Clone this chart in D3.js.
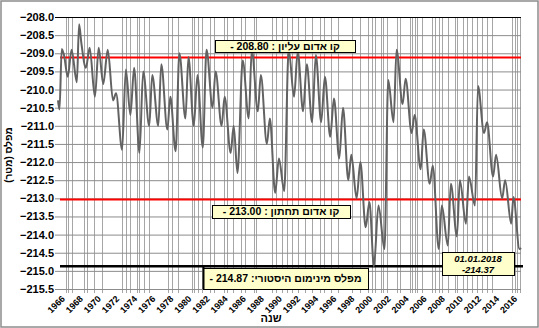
<!DOCTYPE html>
<html>
<head>
<meta charset="utf-8">
<script src="https://cdn.jsdelivr.net/npm/d3@7/dist/d3.min.js"></script>
<style>
body { margin: 0; background: #fff; }
svg { display: block; font-family: "Liberation Sans", Arial, "DejaVu Sans", sans-serif; }
</style>
</head>
<body>
<div id="chart"></div>
<script>
// level of the lake (seasonal highs and lows)
const months = [
  '1966-11','1967-01','1967-04','1967-07','1967-12','1968-05','1968-12','1969-03','1969-06','1969-12',
  '1970-05','1970-12','1971-05','1971-11','1972-05','1972-12','1973-04','1973-12','1974-05','1974-11',
  '1975-04','1975-11','1976-04','1976-12','1977-04','1977-12','1978-04','1978-12','1979-04','1979-11',
  '1980-04','1980-12','1981-04','1981-11','1982-04','1982-11','1983-04','1983-12','1984-04','1984-12',
  '1985-04','1985-12','1986-04','1986-09','1987-04','1987-12','1988-04','1988-12','1989-04','1989-12',
  '1990-04','1990-11','1991-04','1991-11','1992-05','1992-12','1993-05','1993-12','1994-05','1994-12',
  '1995-05','1995-12','1996-05','1996-12','1997-05','1997-12','1998-05','1998-12','1999-04','1999-11',
  '2000-04','2000-11','2001-04','2001-10','2002-04','2002-12','2003-05','2003-12','2004-04','2004-12',
  '2005-04','2005-12','2006-04','2006-12','2007-04','2007-12','2008-04','2008-12','2009-04','2009-12',
  '2010-04','2010-12','2011-04','2011-12','2012-04','2012-12','2013-04','2013-12','2014-04','2014-12',
  '2015-04','2015-12','2016-04','2016-12','2017-03','2017-11','2018-01'
];
const levels = [
  -210.30,-210.55,-208.88,-209.05,-209.65,-208.90,-209.80,-208.20,-208.72,-209.40,
  -208.85,-210.20,-208.85,-209.85,-208.90,-210.30,-210.10,-211.66,-209.45,-210.70,
  -209.40,-211.75,-209.50,-211.00,-209.60,-211.00,-209.30,-211.10,-210.20,-211.70,
  -209.00,-210.80,-209.10,-211.00,-209.60,-211.60,-208.90,-210.50,-209.50,-211.00,
  -210.20,-211.75,-211.00,-212.30,-209.20,-210.80,-208.90,-210.60,-209.60,-211.50,
  -210.80,-212.85,-211.90,-212.80,-208.90,-210.20,-208.95,-210.60,-209.30,-210.90,
  -209.05,-210.90,-209.65,-211.30,-210.25,-211.90,-210.50,-212.50,-211.80,-213.00,
  -212.00,-213.80,-213.10,-214.87,-213.20,-214.40,-209.74,-210.90,-208.90,-210.40,
  -209.70,-211.20,-210.70,-212.20,-211.10,-212.60,-212.10,-214.40,-213.20,-214.30,
  -212.60,-214.05,-212.50,-213.70,-212.40,-213.20,-209.90,-211.20,-210.90,-212.40,
  -211.80,-213.00,-212.50,-213.70,-212.96,-214.40,-214.37
];

const yTicks = [-215.5,-215,-214.5,-214,-213.5,-213,-212.5,-212,-211.5,-211,-210.5,-210,-209.5,-209,-208.5,-208];
const xTickYears = d3.range(1966, 2017, 2);

// vertical grid lines of the original sheet (years, fractional)
const gridYears = [
  1967.68,1967.97,1968.41,1969.74,1970.07,1970.84,1971.66,1973.93,1974.31,1974.82,1975.56,1975.78,
  1976.30,1976.89,1979.02,1979.39,1980.06,1981.60,1981.89,1982.33,1982.77,1983.59,1984.10,1985.14,
  1985.47,1986.17,1987.05,1987.49,1988.45,1988.67,1990.51,1990.89,1991.61,1992.10,1992.65,1993.38,
  1994.12,1994.86,1995.78,1996.22,1996.96,1997.80,1999.28,2000.20,2001.12,2001.49,2001.86,2002.49,
  2002.78,2003.15,2004.26,2004.62,2005.73,2005.91,2006.28,2006.53,2007.02,2008.12,2008.49,2008.93,
  2009.30,2009.96,2010.70,2010.89,2011.62,2011.99,2012.54,2013.09,2013.65,2014.20,2014.75,
  2016.96,2017.33,2017.58,2017.88
];

const redLevels = [-209.12, -213.03];
const redTexts = ['קו אדום עליון : 208.80 -', 'קו אדום תחתון : 213.00 -'];
const minLevel = -214.87;
const minText = 'מפלס מינימום היסטורי: 214.87 -';
const lastTexts = ['01.01.2018', '-214.37'];

const width = 539, height = 328;
const mLeft = 58, mRight = 521, mTop = 17, mBottom = 289;

const toDate = s => d3.timeParse('%Y-%m')(s);
const yearDate = v => {
  const yi = Math.floor(v);
  return new Date(new Date(yi, 0, 1).getTime() + (v - yi) * 365.25 * 864e5);
};
const start = toDate(months[0]);
const end = new Date(2018, 0, 1);

const x = d3.scaleTime().domain([start, end]).range([mLeft, mRight]);
const y = d3.scaleLinear().domain([-215.5, -208]).range([mBottom, mTop]);

const svg = d3.select('#chart').append('svg').attr('width', width).attr('height', height);

svg.append('rect').attr('x', 1).attr('y', 1).attr('width', width - 2).attr('height', height - 2)
  .attr('fill', '#fff').attr('stroke', '#8c8c8c').attr('stroke-width', 1.5);

// vertical grid
svg.append('g').selectAll('line').data(gridYears).join('line')
  .attr('x1', d => Math.round(x(yearDate(d))) + 0.5).attr('x2', d => Math.round(x(yearDate(d))) + 0.5)
  .attr('y1', mTop).attr('y2', mBottom + 4)
  .attr('stroke', '#a6a6a6').attr('stroke-width', 1);

// horizontal grid
svg.append('g').attr('transform', `translate(${mRight},0)`)
  .call(d3.axisLeft(y).tickValues(yTicks).tickSize(mRight - mLeft + 3).tickFormat(''))
  .call(g => g.select('.domain').remove())
  .call(g => g.selectAll('.tick line').attr('stroke', d => d === -208 ? '#000' : '#8c8c8c'));

// y labels
svg.append('g').attr('transform', `translate(${mLeft - 4},0)`)
  .call(d3.axisLeft(y).tickValues(yTicks).tickSize(0).tickPadding(0).tickFormat(d3.format('.1f')))
  .call(g => g.select('.domain').remove())
  .call(g => g.selectAll('text').attr('font-size', 11).attr('font-weight', 'bold').attr('fill', '#000')
    .attr('font-family', '"Liberation Sans", Arial, sans-serif'));

// x axis labels
const xg = svg.append('g').attr('transform', `translate(0,${mBottom})`);
xg.selectAll('text').data(xTickYears).join('text')
  .attr('transform', d => `translate(${x(new Date(d, start.getMonth(), 1)) + 3},6) rotate(-45)`)
  .attr('text-anchor', 'end').attr('dy', '0.7em')
  .attr('font-size', 9).attr('font-weight', 'bold')
  .text(d => d);

// reference lines
svg.append('g').selectAll('line').data(redLevels).join('line')
  .attr('x1', mLeft + 2).attr('x2', mRight).attr('y1', d => y(d)).attr('y2', d => y(d))
  .attr('stroke', '#ff0000').attr('stroke-width', 2);
svg.append('line').attr('x1', mLeft + 2).attr('x2', mRight + 2)
  .attr('y1', y(minLevel)).attr('y2', y(minLevel))
  .attr('stroke', '#000').attr('stroke-width', 2.5);

// level line
const line = d3.line().x((d, i) => x(toDate(months[i]))).y(d => y(d)).curve(d3.curveMonotoneX);
svg.append('path').datum(levels).attr('d', line)
  .attr('fill', 'none').attr('stroke', '#626262').attr('stroke-width', 2);

// labels
function box(x0, y0, w, h, lines, opts = {}) {
  const g = svg.append('g');
  g.append('rect').attr('x', x0 + 0.5).attr('y', y0 + 0.5).attr('width', w).attr('height', h)
    .attr('fill', '#ffffcc').attr('stroke', '#000').attr('stroke-width', 1);
  lines.forEach((t, i) => {
    g.append('text').attr('x', x0 + w / 2).attr('y', y0 + (opts.y0 || h / 2) + i * (opts.lh || 0))
      .attr('dy', '0.35em').attr('text-anchor', 'middle')
      .attr('direction', opts.ltr ? 'ltr' : 'rtl')
      .attr('font-size', opts.size || 10.5).attr('font-weight', 'bold')
      .attr('font-style', opts.italic ? 'italic' : 'normal')
      .text(t);
  });
  return g;
}
box(215, 40, 140, 12, [redTexts[0]]);
box(212, 205, 138, 13, [redTexts[1]]);
const mb = box(203, 268, 165, 21, [minText], {y0: 10});
mb.append('line').attr('x1', 203.5).attr('x2', 203.5).attr('y1', y(minLevel)).attr('y2', mBottom)
  .attr('stroke', '#000').attr('stroke-width', 2);
box(442, 252, 72, 23, lastTexts, {italic: true, size: 9.5, y0: 6.5, lh: 11, ltr: true});

// axis titles
svg.append('text').attr('transform', 'translate(12,155) rotate(-90)')
  .attr('text-anchor', 'middle').attr('direction', 'rtl')
  .attr('font-size', 10).attr('font-weight', 'bold').text('מפלס (מטר)');
svg.append('text').attr('x', 271).attr('y', 322).attr('text-anchor', 'middle')
  .attr('font-size', 11).attr('font-weight', 'bold').text('שנה');
</script>
</body>
</html>
